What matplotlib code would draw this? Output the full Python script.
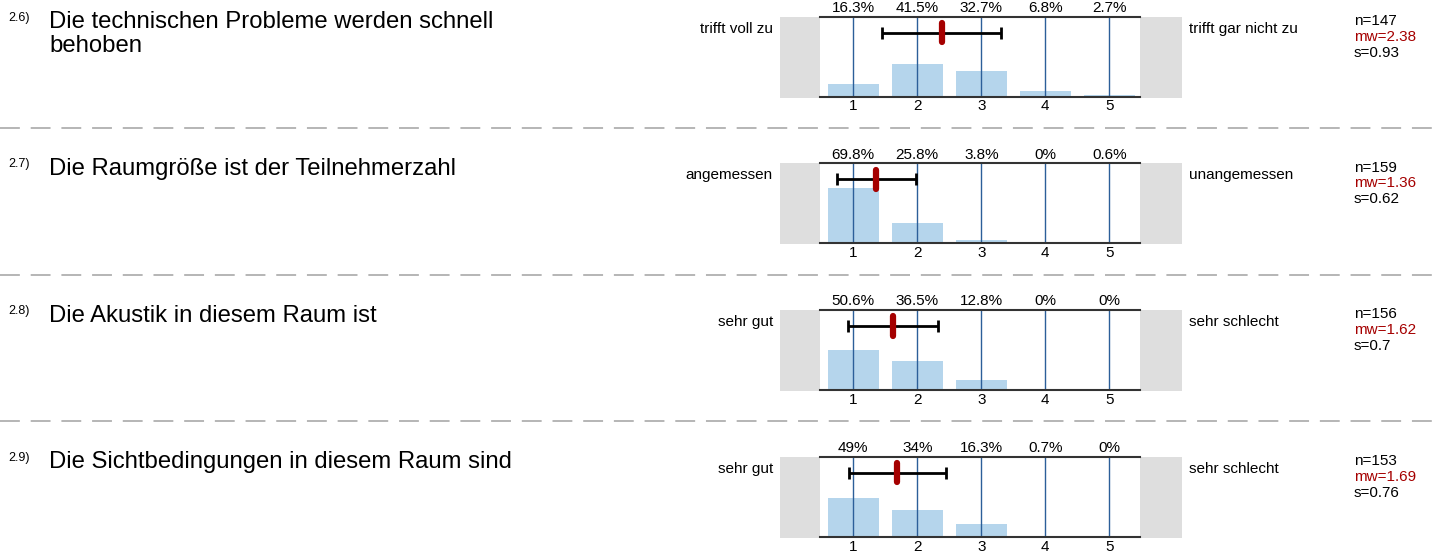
import numpy as np
import matplotlib
matplotlib.use("Agg")
import matplotlib.pyplot as plt
from matplotlib.patches import Rectangle

plt.rcParams['font.family'] = ['Liberation Sans', 'DejaVu Sans']

# data
numbers = ["2.6)", "2.7)", "2.8)", "2.9)"]
questions = [["Die technischen Probleme werden schnell", "behoben"],
             ["Die Raumgröße ist der Teilnehmerzahl"],
             ["Die Akustik in diesem Raum ist"],
             ["Die Sichtbedingungen in diesem Raum sind"]]
left_labels = ["trifft voll zu", "angemessen", "sehr gut", "sehr gut"]
right_labels = ["trifft gar nicht zu", "unangemessen", "sehr schlecht", "sehr schlecht"]
scale = [1, 2, 3, 4, 5]
pct_26 = [16.3, 41.5, 32.7, 6.8, 2.7]
pct_27 = [69.8, 25.8, 3.8, 0, 0.6]
pct_28 = [50.6, 36.5, 12.8, 0, 0]
pct_29 = [49, 34, 16.3, 0.7, 0]
percents = [pct_26, pct_27, pct_28, pct_29]
n_vals = [147, 159, 156, 153]
mw_vals = [2.38, 1.36, 1.62, 1.69]
s_vals = [0.93, 0.62, 0.7, 0.76]

W, H = 1436, 555
fig = plt.figure(figsize=(W / 100, H / 100), dpi=100)

# overlay axes in pixel coordinates for texts and decorations
bg = fig.add_axes([0, 0, 1, 1])
bg.set_xlim(0, W)
bg.set_ylim(H, 0)
bg.axis('off')

bar_color = '#b5d5ec'
line_color = '#2c5f99'
red = '#a50000'

for i in range(4):
    top = 16.7 + i * 146.7
    # question
    bg.text(8, top + 4, numbers[i], fontsize=9, va='baseline', ha='left')
    for j, line in enumerate(questions[i]):
        bg.text(49, top + 11.7 + j * 23.4, line, fontsize=17.2, va='baseline', ha='left')
    # grey boxes
    bg.add_patch(Rectangle((780, top), 40, 81, color='#dedede', lw=0))
    bg.add_patch(Rectangle((1140, top), 42, 81, color='#dedede', lw=0))
    bg.text(773, top + 16, left_labels[i], fontsize=11, ha='right', va='baseline')
    bg.text(1189, top + 16, right_labels[i], fontsize=11, ha='left', va='baseline')
    # stats
    bg.text(1354, top + 8.3, "n=%d" % n_vals[i], fontsize=11, va='baseline')
    bg.text(1354, top + 24, "mw=%s" % mw_vals[i], fontsize=11, va='baseline', color=red)
    bg.text(1354, top + 40, "s=%s" % s_vals[i], fontsize=11, va='baseline')
    # separator
    if i < 3:
        bg.plot([0, W], [top + 111.3, top + 111.3], color='#b0b0b0', lw=1.3,
                dashes=(11, 6))

    ax = fig.add_axes([820 / W, 1 - (top + 80) / H, 320 / W, 80 / H])
    ax.set_xlim(0.48, 5.48)
    ax.set_ylim(0, 1)
    ax.bar(scale, np.array(percents[i]) / 100, width=0.79, color=bar_color, zorder=1)
    for x in scale:
        ax.axvline(x, color=line_color, lw=1, zorder=2)
    for x, p in zip(scale, percents[i]):
        ax.text(x, 1.06, "%g%%" % p, fontsize=11, ha='center', va='baseline',
                transform=ax.get_xaxis_transform())
    m, s = mw_vals[i], s_vals[i]
    ax.errorbar([m], [0.8], xerr=[s], color='black', lw=2, capsize=4,
                capthick=2, zorder=3)
    ax.plot([m, m], [0.68, 0.92], color=red, lw=4.5, solid_capstyle='round', zorder=4)
    for side in ['left', 'right']:
        ax.spines[side].set_visible(False)
    for side in ['top', 'bottom']:
        ax.spines[side].set_color('#333333')
        ax.spines[side].set_linewidth(1.5)
    ax.set_xticks(scale)
    ax.set_xticklabels([str(x) for x in scale], fontsize=11)
    ax.tick_params(axis='x', length=0, pad=2)
    ax.set_yticks([])

fig.savefig("out.png", dpi=100)
